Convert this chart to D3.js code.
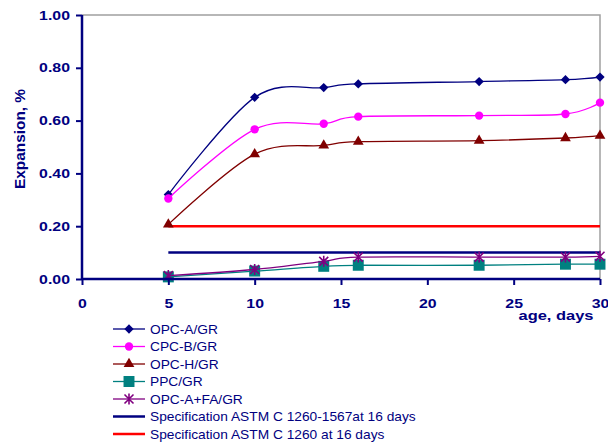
<!DOCTYPE html>
<html>
<head>
<meta charset="utf-8">
<script src="https://cdn.jsdelivr.net/npm/d3@7"></script>
<style>
  body { margin: 0; background: #fff; }
  text { font-family: Arial, "Liberation Sans", sans-serif; fill: #000080; }
</style>
</head>
<body>
<svg width="608" height="448"></svg>
<script>
// ages (days)
const ages = [5, 10, 14, 16, 23, 28, 30]

const opcA = [0.32, 0.688, 0.725, 0.739, 0.748, 0.755, 0.765]
const cpcB = [0.305, 0.567, 0.588, 0.615, 0.619, 0.625, 0.668]
const opcH = [0.207, 0.473, 0.506, 0.52, 0.524, 0.534, 0.543]
const ppc = [0.008, 0.030, 0.048, 0.052, 0.052, 0.056, 0.056]
const opcAFA = [0.013, 0.036, 0.067, 0.083, 0.083, 0.083, 0.086]

const specLimits = [0.10, 0.20]   // 1260-1567, 1260
const specAges = [5, 30]

const xTicks = [0, 5, 10, 15, 20, 25, 30]
const yTicks = [0, 0.2, 0.4, 0.6, 0.8, 1.0]

const series = [
  { name: 'OPC-A/GR', values: opcA, color: '#000080', symbol: d3.symbolDiamond2, size: 55 },
  { name: 'CPC-B/GR', values: cpcB, color: '#FF00FF', symbol: d3.symbolCircle, size: 55 },
  { name: 'OPC-H/GR', values: opcH, color: '#800000', symbol: d3.symbolTriangle, size: 50 },
  { name: 'PPC/GR', values: ppc, color: '#008080', symbol: d3.symbolSquare, size: 120 },
  { name: 'OPC-A+FA/GR', values: opcAFA, color: '#800080', symbol: 'star', size: 9 }
]
const specs = [
  { name: 'Specification ASTM C 1260-1567at 16 days', value: specLimits[0], color: '#000080' },
  { name: 'Specification ASTM C 1260 at 16 days', value: specLimits[1], color: '#FF0000' }
]

const svg = d3.select('svg')
const plotL = 82, plotR = 600, plotT = 15, plotB = 279
const SX = 1.22 // text in the picture is stretched sideways

const x = d3.scaleLinear().domain([0, 30]).range([plotL, plotR])
const y = d3.scaleLinear().domain([0, 1]).range([plotB, plotT])

// grey frame top and right
svg.append('path')
  .attr('d', `M${plotL},${plotT}H${plotR}V${plotB}`)
  .attr('fill', 'none')
  .attr('stroke', '#a0a0a0')
  .attr('stroke-width', 1.5)

// spec lines
specs.forEach(s => {
  svg.append('line')
    .attr('x1', x(specAges[0])).attr('x2', x(specAges[1]))
    .attr('y1', y(s.value)).attr('y2', y(s.value))
    .attr('stroke', s.color)
    .attr('stroke-width', 2.5)
})

function drawMarker(g, s, cx, cy) {
  if (s.symbol === 'star') {
    const r = s.size / 2
    g.append('path')
      .attr('d', `M${cx - r},${cy - r}L${cx + r},${cy + r}M${cx - r},${cy + r}L${cx + r},${cy - r}M${cx},${cy - r - 1}V${cy + r + 1}`)
      .attr('stroke', s.color)
      .attr('stroke-width', 1.6)
      .attr('fill', 'none')
  } else {
    g.append('path')
      .attr('d', d3.symbol().type(s.symbol).size(s.size)())
      .attr('transform', `translate(${cx},${cy})`)
      .attr('fill', s.color)
  }
}

const line = d3.line()
  .x(d => x(d[0]))
  .y(d => y(d[1]))
  .curve(d3.curveCatmullRom.alpha(0))

series.forEach(s => {
  const pts = ages.map((a, i) => [a, s.values[i]])
  svg.append('path')
    .datum(pts)
    .attr('d', line)
    .attr('fill', 'none')
    .attr('stroke', s.color)
    .attr('stroke-width', 1.3)
  const g = svg.append('g')
  pts.forEach(p => drawMarker(g, s, x(p[0]), y(p[1])))
})

// axes
const axisX = d3.axisBottom(x).tickValues(xTicks).tickSize(6).tickFormat(d3.format('d'))
const axisY = d3.axisLeft(y).tickValues(yTicks).tickSize(6).tickFormat(d3.format('.2f'))

const gx = svg.append('g')
  .attr('transform', `translate(0,${plotB})`)
  .call(axisX)
const gy = svg.append('g')
  .attr('transform', `translate(${plotL},0)`)
  .call(axisY)

;[gx, gy].forEach(g => {
  g.select('.domain').attr('stroke', '#000080').attr('stroke-width', 2.5)
  g.selectAll('.tick line').attr('stroke', '#000080').attr('stroke-width', 2)
  g.selectAll('.tick text')
    .attr('fill', '#000080')
    .attr('font-size', 13)
    .attr('font-weight', 'bold')
})
gx.select('.domain').attr('d', `M${plotL},0H${plotR}`)
gy.select('.domain').attr('d', `M0,${plotB}V${plotT}`)
gx.selectAll('.tick text').attr('y', 29).attr('dy', 0)
  .attr('transform', `scale(${SX},1)`)
gy.selectAll('.tick text').attr('x', -12 / SX)
  .attr('transform', `scale(${SX},1)`)

// axis titles
svg.append('text')
  .attr('transform', `translate(25,139) rotate(-90) scale(1.1,1)`)
  .attr('text-anchor', 'middle')
  .attr('font-size', 14)
  .attr('font-weight', 'bold')
  .text('Expansion, %')

svg.append('text')
  .attr('transform', `translate(556,320) scale(${SX},1)`)
  .attr('text-anchor', 'middle')
  .attr('font-size', 13.5)
  .attr('font-weight', 'bold')
  .text('age, days')

// legend
const legX1 = 113, legX2 = 145, legMid = 129, legText = 150
const rowY = i => 329 + i * 17.5

series.forEach((s, i) => {
  const g = svg.append('g')
  g.append('line')
    .attr('x1', legX1).attr('x2', legX2)
    .attr('y1', rowY(i)).attr('y2', rowY(i))
    .attr('stroke', s.color).attr('stroke-width', 1.3)
  drawMarker(g, s, legMid, rowY(i))
  g.append('text')
    .attr('transform', `translate(${legText},${rowY(i) + 4.5}) scale(1.1,1)`)
    .attr('font-size', 12.5)
    .text(s.name)
})
specs.forEach((s, j) => {
  const i = series.length + j
  const g = svg.append('g')
  g.append('line')
    .attr('x1', legX1).attr('x2', legX2)
    .attr('y1', rowY(i)).attr('y2', rowY(i))
    .attr('stroke', s.color).attr('stroke-width', 2.5)
  g.append('text')
    .attr('transform', `translate(${legText},${rowY(i) + 4.5}) scale(1.1,1)`)
    .attr('font-size', 12.5)
    .text(s.name)
})
</script>
</body>
</html>
